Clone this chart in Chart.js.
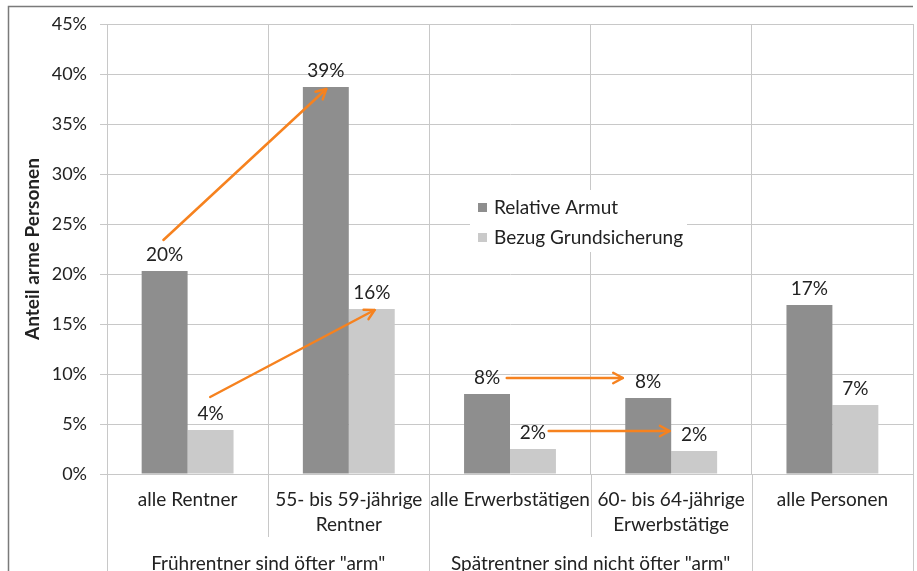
<!DOCTYPE html>
<html>
<head>
<meta charset="utf-8">
<script src="https://cdn.jsdelivr.net/npm/chart.js@4.4.0/dist/chart.umd.min.js"></script>
<style>
  body { margin: 0; background: #fff; }
  canvas { display: block; }
</style>
</head>
<body>
<canvas id="armutChart" width="917" height="571"></canvas>
<script>
const categories = [
  ["alle Rentner"],
  ["55- bis 59-jährige", "Rentner"],
  ["alle Erwerbstätigen"],
  ["60- bis 64-jährige", "Erwerbstätige"],
  ["alle Personen"]
];
const relativeArmut = [20.3, 38.7, 8.0, 7.6, 16.9];
const grundsicherung = [4.4, 16.5, 2.5, 2.3, 6.9];
const relativeArmutLabels = ["20%", "39%", "8%", "8%", "17%"];
const grundsicherungLabels = ["4%", "16%", "2%", "2%", "7%"];
const seriesNames = ["Relative Armut", "Bezug Grundsicherung"];
const groupLabels = ['Frührentner sind öfter "arm"', 'Spätrentner sind nicht öfter "arm"'];
const groupSpans = [[0, 1], [2, 3]];
// arrows in data units: [x (category index), y (%)] -> [x, y]
const arrowStarts = [[-0.15, 23.4], [0.14, 7.7], [1.98, 9.6], [2.24, 4.3]];
const arrowEnds = [[0.86, 38.5], [1.16, 16.4], [2.70, 9.6], [2.99, 4.3]];

const FONT = "Lato, 'Open Sans', sans-serif";
const GRID = "#c8c8c8";
const DARK = "#8e8e8e";
const LIGHT = "#cacaca";
const TEXT = "#222222";
const ORANGE = "#f6821f";

function catX(chart, v) {
  const a = chart.chartArea;
  const w = (a.right - a.left) / categories.length;
  return a.left + (v + 0.5) * w;
}

const extras = {
  id: "extras",
  beforeDraw(chart) {
    const ctx = chart.ctx;
    const a = chart.chartArea;
    const w = (a.right - a.left) / categories.length;
    ctx.save();
    // frame
    ctx.strokeStyle = "#7a7a7a";
    ctx.lineWidth = 1.5;
    ctx.beginPath();
    ctx.moveTo(8.5, 571);
    ctx.lineTo(8.5, 6.5);
    ctx.lineTo(913, 6.5);
    ctx.stroke();
    // extended category dividers below the axis
    ctx.strokeStyle = GRID;
    ctx.lineWidth = 1;
    for (let i = 0; i <= categories.length; i++) {
      const x = Math.round(a.left + i * w) + 0.5;
      const inner = i === 1 || i === 3;
      ctx.beginPath();
      ctx.moveTo(x, a.bottom);
      ctx.lineTo(x, inner ? a.bottom + 63 : 571);
      ctx.stroke();
    }
    ctx.restore();
  },
  afterDatasetsDraw(chart) {
    const ctx = chart.ctx;
    const a = chart.chartArea;
    const y = chart.scales.y;
    ctx.save();
    // value labels
    ctx.font = "19px " + FONT;
    ctx.fillStyle = TEXT;
    ctx.textAlign = "center";
    ctx.textBaseline = "middle";
    [relativeArmutLabels, grundsicherungLabels].forEach((labels, d) => {
      chart.getDatasetMeta(d).data.forEach((bar, i) => {
        ctx.fillText(labels[i], bar.x, bar.y - 16);
      });
    });
    // group labels
    groupLabels.forEach((txt, g) => {
      const mid = (groupSpans[g][0] + groupSpans[g][1]) / 2;
      ctx.fillText(txt, catX(chart, mid), a.bottom + 90);
    });
    // legend
    ctx.fillStyle = "#fff";
    ctx.fillRect(470, 190, 217, 62);
    [DARK, LIGHT].forEach((c, i) => {
      ctx.fillStyle = c;
      ctx.fillRect(478, 203 + i * 30, 9, 9);
      ctx.fillStyle = TEXT;
      ctx.textAlign = "left";
      ctx.fillText(seriesNames[i], 494, 208 + i * 30);
    });
    // arrows
    ctx.strokeStyle = ORANGE;
    ctx.lineWidth = 2.5;
    ctx.lineCap = "round";
    ctx.lineJoin = "round";
    arrowStarts.forEach((s, i) => {
      const e = arrowEnds[i];
      const x1 = catX(chart, s[0]), y1 = y.getPixelForValue(s[1]);
      const x2 = catX(chart, e[0]), y2 = y.getPixelForValue(e[1]);
      const ang = Math.atan2(y2 - y1, x2 - x1);
      ctx.beginPath();
      ctx.moveTo(x1, y1);
      ctx.lineTo(x2, y2);
      ctx.stroke();
      ctx.beginPath();
      ctx.moveTo(x2 - 11 * Math.cos(ang - 0.5), y2 - 11 * Math.sin(ang - 0.5));
      ctx.lineTo(x2, y2);
      ctx.lineTo(x2 - 11 * Math.cos(ang + 0.5), y2 - 11 * Math.sin(ang + 0.5));
      ctx.stroke();
    });
    ctx.restore();
  }
};

new Chart(document.getElementById("armutChart"), {
  type: "bar",
  data: {
    labels: categories,
    datasets: [
      { label: seriesNames[0], data: relativeArmut, backgroundColor: DARK },
      { label: seriesNames[1], data: grundsicherung, backgroundColor: LIGHT }
    ]
  },
  options: {
    responsive: false,
    animation: false,
    layout: { padding: { left: 0, top: 24, right: 4, bottom: 0 } },
    datasets: { bar: { categoryPercentage: 0.57, barPercentage: 1.0 } },
    plugins: { legend: { display: false }, tooltip: { enabled: false } },
    scales: {
      x: {
        grid: { color: GRID, offset: true, drawTicks: false },
        border: { color: GRID },
        ticks: {
          color: TEXT,
          padding: 13,
          font: { family: FONT, size: 19, lineHeight: 1.32 },
          maxRotation: 0,
          autoSkip: false
        },
        afterFit(scale) { scale.height = 97; }
      },
      y: {
        min: 0,
        max: 45,
        grid: { color: GRID, tickLength: 7 },
        border: { color: GRID },
        ticks: {
          stepSize: 5,
          color: TEXT,
          padding: 13,
          font: { family: FONT, size: 18 },
          callback: v => v + "%"
        },
        title: {
          display: true,
          text: "Anteil arme Personen",
          color: TEXT,
          font: { family: FONT, size: 19, weight: "bold" },
          padding: { top: 21, bottom: 0 }
        },
        afterFit(scale) { scale.width = 107; }
      }
    }
  },
  plugins: [extras]
});
</script>
</body>
</html>
